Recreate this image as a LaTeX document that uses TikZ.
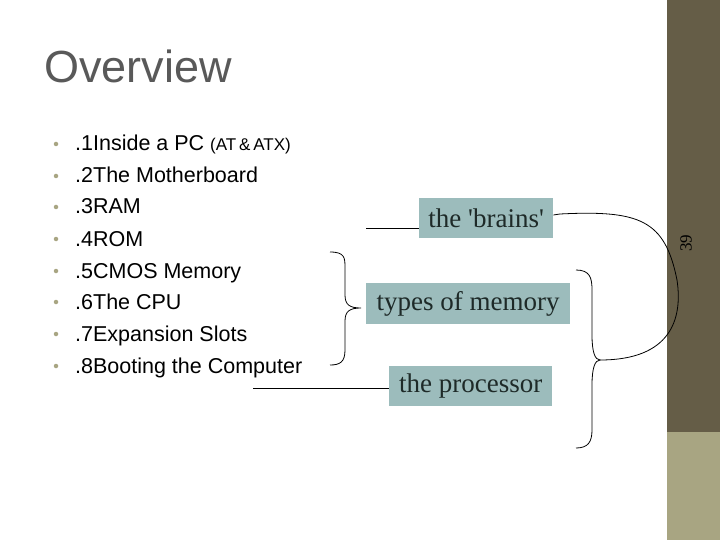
\documentclass[tikz,border=0pt]{standalone}
\usepackage{fontspec}
\setmainfont{Liberation Serif}
\newfontfamily\sansf{Liberation Sans}
\definecolor{bar}{HTML}{655D47}
\definecolor{barlight}{HTML}{A8A582}
\definecolor{boxc}{HTML}{9CBCBC}
\definecolor{txt}{HTML}{1E2A28}
\definecolor{bul}{HTML}{A8A582}
\begin{document}
\begin{tikzpicture}[x=1pt,y=-1pt,
  item/.style={anchor=base west,font=\sansf\fontsize{21.5}{24}\selectfont,text=black,inner sep=0},
  dot/.style={circle,fill=bul,inner sep=0,minimum size=4.5pt},
  lab/.style={fill=boxc,text=txt,font=\fontsize{27}{30}\selectfont,inner sep=0,anchor=north west},
  ln/.style={draw=black,line width=0.8pt}]
\useasboundingbox (0,0) rectangle (720,540);
\fill[white] (0,0) rectangle (720,540);
\fill[bar] (667,0) rectangle (720,432);
\fill[barlight] (667,432) rectangle (720,540);
\node[rotate=90,font=\fontsize{17}{19}\selectfont,text=black] (pg) at (686,243) {39};
\node[anchor=base west,inner sep=0,font=\sansf\fontsize{45}{48}\selectfont,text=black!65] (title) at (44,83) {Overview};
\foreach \t/\y [count=\i] in {{.1Inside a PC {\fontsize{17}{19}\selectfont(AT\,\&\,ATX)}}/151,{.2The Motherboard}/183,{.3RAM}/214,{.4ROM}/246,{.5CMOS Memory}/278,{.6The CPU}/309,{.7Expansion Slots}/341,{.8Booting the Computer}/373}{
  \node[dot] (d\i) at (56,\y-7) {};
  \node[item] (it\i) at (75,\y) {\t};
}
\node[lab,minimum width=134,minimum height=40] (brains) at (419,198) {the \textquotesingle brains\textquotesingle};
\node[lab,minimum width=204,minimum height=41] (mem) at (366,283) {types of memory};
\node[lab,minimum width=163,minimum height=40] (proc) at (389,366) {the processor};
\coordinate (b0) at (366,228);
\coordinate (p0) at (253,388);
\draw[ln] (b0) -- (b0-|brains.west);
\draw[ln] (p0) -- (p0-|proc.west);
% left brace
\coordinate (lt) at (361,308);
\draw[ln] (330,252) .. controls (345,252) and (345,258) .. (345,268) -- (345,295)
  .. controls (345,305) and (350,308) .. (lt)
  .. controls (350,308) and (345,311) .. (345,321) -- (345,350)
  .. controls (345,362) and (340,365) .. (330,365);
% right brace
\coordinate (rt) at (600,360);
\draw[ln] (576,270) .. controls (590,270) and (592,278) .. (592,290) -- (592,335)
  .. controls (592,352) and (595,360) .. (rt)
  .. controls (595,360) and (592,368) .. (592,385) -- (592,430)
  .. controls (592,442) and (588,448) .. (576,448);
% connector from brains to right brace
\draw[ln] (brains.east|-0,215) -- (560,214) .. controls (640,210) and (665,220) .. (677,280)
  .. controls (683,320) and (670,360) .. (rt);
\end{tikzpicture}
\end{document}
